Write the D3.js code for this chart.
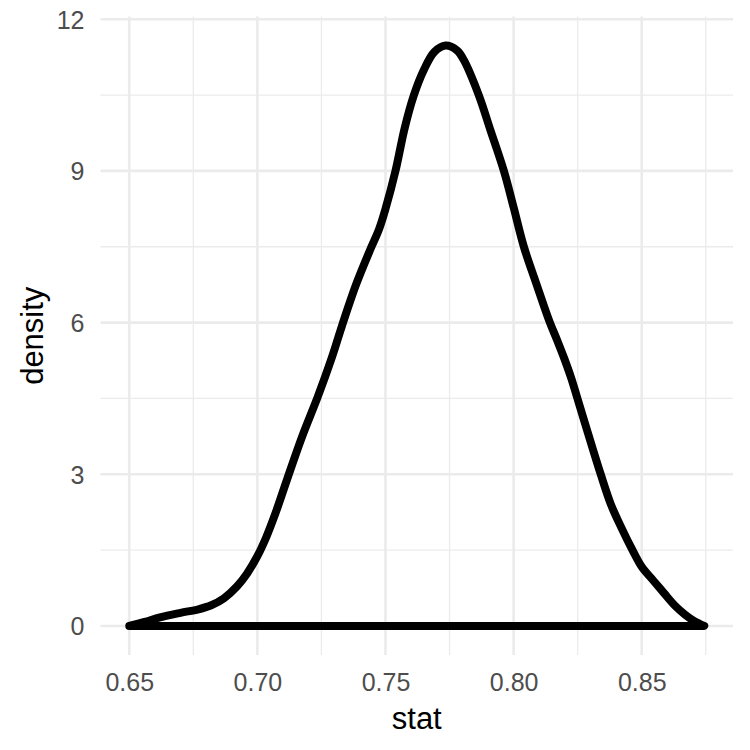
<!DOCTYPE html>
<html>
<head>
<meta charset="utf-8">
<script src="https://cdn.jsdelivr.net/npm/d3@7"></script>
<style>
  html, body { margin: 0; padding: 0; background: #fff; }
  text { font-family: "Liberation Sans", Arial, Helvetica, sans-serif; }
</style>
</head>
<body>
<svg id="chart" width="750" height="750"></svg>
<script>
// ---- data ----
const statValues = [
  0.6500, 0.6560, 0.6620, 0.6700, 0.6770, 0.6820, 0.6870, 0.6920, 0.6960, 0.7000,
  0.7035, 0.7070, 0.7116, 0.7175, 0.7237, 0.7290, 0.7331, 0.7385, 0.7441, 0.7475,
  0.7500, 0.7539, 0.7575, 0.7611, 0.7650, 0.7690, 0.7734, 0.7780, 0.7806, 0.7864,
  0.7910, 0.7962, 0.8000, 0.8040, 0.8090, 0.8138, 0.8170, 0.8197, 0.8225, 0.8249,
  0.8300, 0.8340, 0.8380, 0.8420, 0.8464, 0.8500, 0.8545, 0.8587, 0.8630, 0.8670,
  0.8704, 0.8744
];
const densityValues = [
  0.00, 0.08, 0.17, 0.26, 0.33, 0.41, 0.55, 0.78, 1.04, 1.38,
  1.76, 2.22, 2.90, 3.75, 4.55, 5.30, 5.95, 6.75, 7.45, 7.85,
  8.25, 9.00, 9.85, 10.50, 11.00, 11.35, 11.48, 11.38, 11.19, 10.50,
  9.80, 9.00, 8.28, 7.50, 6.75, 6.05, 5.65, 5.30, 4.90, 4.50,
  3.65, 3.00, 2.40, 1.95, 1.50, 1.17, 0.90, 0.65, 0.40, 0.22,
  0.10, 0.00
];
const xMajorTicks = [0.65, 0.70, 0.75, 0.80, 0.85];
const xMinorTicks = [0.675, 0.725, 0.775, 0.825, 0.875];
const yMajorTicks = [0, 3, 6, 9, 12];
const yMinorTicks = [1.5, 4.5, 7.5, 10.5];
const xTitle = "stat";
const yTitle = "density";

// ---- layout ----
const panel = { left: 100.5, right: 733, top: 16.5, bottom: 655 };
const svg = d3.select("#chart");

const xExt = d3.extent(statValues);
const xPad = (xExt[1] - xExt[0]) * 0.05;
const x = d3.scaleLinear().domain([xExt[0] - xPad, xExt[1] + xPad]).range([panel.left, panel.right]);
const yMax = d3.max(densityValues);
const yPad = yMax * 0.05;
const y = d3.scaleLinear().domain([-yPad, yMax + yPad]).range([panel.bottom, panel.top]);

const grid = svg.append("g");
// minor grid
grid.selectAll("line.xminor").data(xMinorTicks.filter(v => x(v) <= panel.right)).enter().append("line")
  .attr("x1", d => x(d)).attr("x2", d => x(d)).attr("y1", panel.top).attr("y2", panel.bottom)
  .attr("stroke", "#ebebeb").attr("stroke-width", 1.3);
grid.selectAll("line.yminor").data(yMinorTicks).enter().append("line")
  .attr("y1", d => y(d)).attr("y2", d => y(d)).attr("x1", panel.left).attr("x2", panel.right)
  .attr("stroke", "#ebebeb").attr("stroke-width", 1.3);
// major grid
grid.selectAll("line.xmajor").data(xMajorTicks).enter().append("line")
  .attr("x1", d => x(d)).attr("x2", d => x(d)).attr("y1", panel.top).attr("y2", panel.bottom)
  .attr("stroke", "#ebebeb").attr("stroke-width", 2.6);
grid.selectAll("line.ymajor").data(yMajorTicks).enter().append("line")
  .attr("y1", d => y(d)).attr("y2", d => y(d)).attr("x1", panel.left).attr("x2", panel.right)
  .attr("stroke", "#ebebeb").attr("stroke-width", 2.6);

// axes via d3 axis generators (tick labels only)
const xAxis = d3.axisBottom(x).tickValues(xMajorTicks).tickFormat(d3.format(".2f")).tickSize(0).tickPadding(0);
const gx = svg.append("g").attr("transform", `translate(0, ${panel.bottom})`).call(xAxis);
gx.select(".domain").remove();
gx.selectAll("text").attr("fill", "#4d4d4d").attr("font-size", "25px")
  .attr("font-family", "'Liberation Sans', Arial, sans-serif")
  .attr("dy", null).attr("y", 36);

const yAxis = d3.axisLeft(y).tickValues(yMajorTicks).tickFormat(d3.format("d")).tickSize(0).tickPadding(0);
const gy = svg.append("g").attr("transform", `translate(${panel.left}, 0)`).call(yAxis);
gy.select(".domain").remove();
gy.selectAll("text").attr("fill", "#4d4d4d").attr("font-size", "25px")
  .attr("font-family", "'Liberation Sans', Arial, sans-serif")
  .attr("x", -16).attr("dy", "0.36em");

// density outline (closed polygon including baseline)
const pts = statValues.map((s, i) => [s, densityValues[i]]);
const line = d3.line().x(d => x(d[0])).y(d => y(d[1])).curve(d3.curveCatmullRom.alpha(0.5));
svg.append("path")
  .attr("d", line(pts) + "Z")
  .attr("fill", "none")
  .attr("stroke", "#000")
  .attr("stroke-width", 8)
  .attr("stroke-linejoin", "round")
  .attr("stroke-linecap", "round");

// titles
svg.append("text").attr("x", (panel.left + panel.right) / 2).attr("y", 729)
  .attr("text-anchor", "middle").attr("font-size", "31px").attr("fill", "#000").text(xTitle);
svg.append("text").attr("transform", `translate(43, ${(panel.top + panel.bottom) / 2}) rotate(-90)`)
  .attr("text-anchor", "middle").attr("font-size", "31px").attr("fill", "#000").text(yTitle);
</script>
</body>
</html>
